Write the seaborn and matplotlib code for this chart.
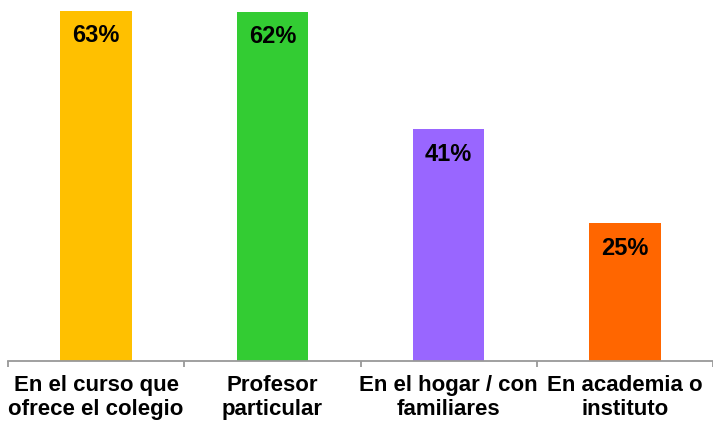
import matplotlib
matplotlib.use("Agg")
import matplotlib.pyplot as plt
import seaborn as sns
import pandas as pd

categories = ["En el curso que\nofrece el colegio", "Profesor\nparticular",
              "En el hogar / con\nfamiliares", "En academia o\ninstituto"]
values = [62.6, 62.4, 41.4, 24.6]
colors = ["#FFC000", "#33CC33", "#9966FF", "#FF6600"]

df = pd.DataFrame({"categoria": categories, "valor": values})

sns.set_style("white")
plt.rcParams["font.family"] = ["Liberation Sans", "DejaVu Sans"]

fig = plt.figure(figsize=(7.13, 4.21), dpi=100)
ax = fig.add_axes([8 / 713, 60 / 421, 1 - 8 / 713, 1 - 60 / 421])

sns.barplot(data=df, x="categoria", y="valor", hue="categoria", palette=colors,
            width=0.405, legend=False, ax=ax, saturation=1, linewidth=0)

ax.set_ylim(0, 64.5)
ax.set_xlim(-0.5, len(categories) - 0.5)

for bar, v in zip(ax.patches, values):
    ax.annotate(f"{round(v)}%", (bar.get_x() + bar.get_width() / 2, bar.get_height()),
                xytext=(0, -18), textcoords="offset points", ha="center", va="center",
                fontsize=17, fontweight="bold", color="black")

for s in ["top", "right", "left"]:
    ax.spines[s].set_visible(False)
ax.spines["bottom"].set_color("#999999")
ax.spines["bottom"].set_linewidth(1.3)
ax.set_yticks([])
ax.set_xlabel("")
ax.set_ylabel("")
ax.set_xticks(range(len(categories)))
ax.set_xticklabels(categories, fontsize=16, fontweight="bold", linespacing=1.2,
                   color="black")
ax.set_xticks([i - 0.5 for i in range(len(categories) + 1)], minor=True)
ax.tick_params(axis="x", which="major", bottom=False, length=0, pad=10)
ax.tick_params(axis="x", which="minor", bottom=True, length=4.5, color="#999999", width=1.3)

fig.savefig("out.png", dpi=100)
